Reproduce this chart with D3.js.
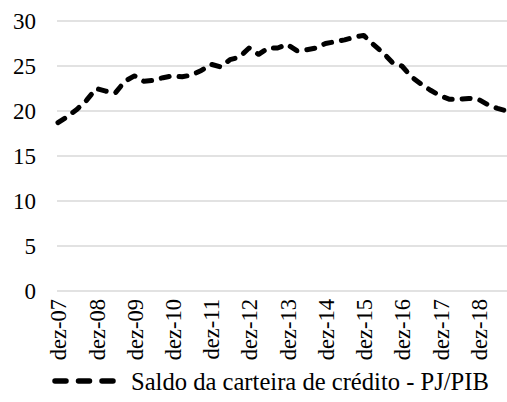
<!DOCTYPE html>
<html>
<head>
<meta charset="utf-8">
<script src="https://cdn.jsdelivr.net/npm/d3@7"></script>
<style>
  body { margin: 0; background: #fff; }
  svg { display: block; font-family: "Liberation Serif", "Times New Roman", serif; }
</style>
</head>
<body>
<svg id="chart" width="507" height="402"></svg>
<script>
// quarterly readings, dez-07 .. set-19 (month index from dez-07)
const months = d3.range(0, 144, 3);
const values = [
  18.7, 19.4, 20.2, 21.2, 22.5, 22.2, 22.0, 23.3,
  23.9, 23.3, 23.4, 23.7, 23.9, 23.8, 24.0, 24.5,
  25.2, 24.9, 25.7, 26.0, 27.0, 26.3, 27.0, 27.0,
  27.4, 26.7, 26.8, 27.0, 27.5, 27.7, 27.9, 28.2,
  28.4, 27.4, 26.5, 25.4, 25.0, 23.8, 23.0, 22.3,
  21.7, 21.3, 21.3, 21.4, 21.3, 20.7, 20.3, 20.0
];
const tickLabels = ["dez-07", "dez-08", "dez-09", "dez-10", "dez-11", "dez-12",
  "dez-13", "dez-14", "dez-15", "dez-16", "dez-17", "dez-18"];
const yTicks = [0, 5, 10, 15, 20, 25, 30];
const seriesName = "Saldo da carteira de crédito - PJ/PIB";

const svg = d3.select("#chart");
const m = { l: 57, r: 0, t: 21, b: 111 };
const W = 507, H = 402;

const x = d3.scaleLinear().domain([0, 141]).range([58, 507]);
const y = d3.scaleLinear().domain([0, 30]).range([H - m.b, m.t]);

// gridlines
svg.append("g")
  .selectAll("line")
  .data(yTicks)
  .join("line")
  .attr("x1", m.l)
  .attr("x2", W)
  .attr("y1", d => y(d))
  .attr("y2", d => y(d))
  .attr("stroke", "#d9d9d9")
  .attr("stroke-width", 1.3);

// y axis labels
const yAxis = svg.append("g")
  .attr("transform", `translate(${m.l - 21},0)`)
  .call(d3.axisLeft(y).tickValues(yTicks).tickSize(0).tickPadding(0));
yAxis.select(".domain").remove();
yAxis.selectAll("text")
  .attr("font-size", 23)
  .attr("font-family", "Liberation Serif, serif")
  .attr("fill", "#000");

// x axis labels, every 12 months
const xAxis = svg.append("g")
  .attr("transform", `translate(0,${y(0) + 8})`)
  .call(d3.axisBottom(x)
    .tickValues(tickLabels.map((_d, i) => i * 12))
    .tickFormat((_d, i) => tickLabels[i])
    .tickSize(0)
    .tickPadding(0));
xAxis.select(".domain").remove();
xAxis.selectAll("text")
  .attr("font-size", 22.5)
  .attr("font-family", "Liberation Serif, serif")
  .attr("fill", "#000")
  .attr("text-anchor", "end")
  .attr("transform", "rotate(-90)")
  .attr("x", 0)
  .attr("y", 0)
  .attr("dy", "0.35em");

// series line
const line = d3.line()
  .x((_d, i) => x(months[i]))
  .y(d => y(d));

svg.append("path")
  .datum(values)
  .attr("fill", "none")
  .attr("stroke", "#000")
  .attr("stroke-width", 5)
  .attr("stroke-linecap", "round")
  .attr("stroke-linejoin", "round")
  .attr("stroke-dasharray", "8 10")
  .attr("d", line);

// legend
const lg = svg.append("g").attr("transform", "translate(52,381)");
lg.append("line")
  .attr("x1", 3).attr("x2", 66)
  .attr("y1", 0).attr("y2", 0)
  .attr("stroke", "#000")
  .attr("stroke-width", 5.5)
  .attr("stroke-linecap", "round")
  .attr("stroke-dasharray", "11 12.5");
lg.append("text")
  .attr("x", 79)
  .attr("y", 0)
  .attr("dy", "0.35em")
  .attr("font-size", 24.6)
  .attr("fill", "#000")
  .text(seriesName);
</script>
</body>
</html>
